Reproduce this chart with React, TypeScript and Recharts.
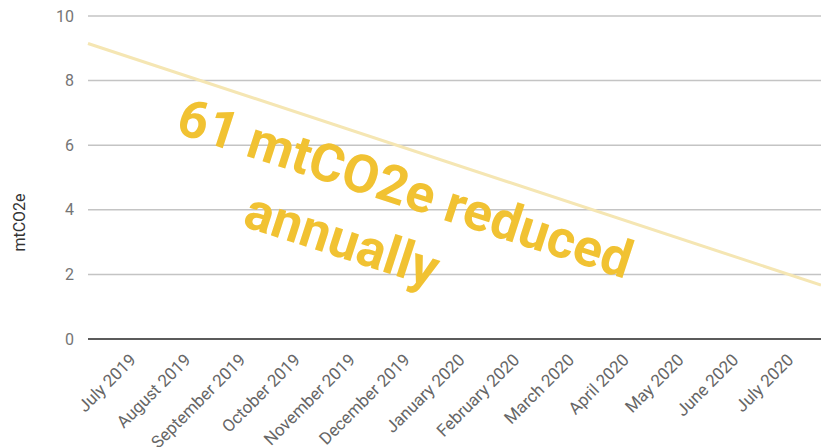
import React from "react";
import { CartesianGrid, Line, LineChart, ReferenceLine, XAxis, YAxis } from "recharts";

const months = [
  "July 2019", "August 2019", "September 2019", "October 2019", "November 2019",
  "December 2019", "January 2020", "February 2020", "March 2020", "April 2020",
  "May 2020", "June 2020", "July 2020",
];
const monthIndex = [0, 1, 2, 3, 4, 5, 6, 7, 8, 9, 10, 11, 12];
const yTicks = [0, 2, 4, 6, 8, 10];

// trend line at the plot edges
const trendX = [-0.84, 12.54];
const trendY = [9.15, 1.67];

const trend = trendX.map((x, i) => ({ x, y: trendY[i] }));

const FONT = "Roboto, Arial, sans-serif";

function MonthTick({ x, y, payload }: any) {
  return (
    <text
      x={x + 3}
      y={y + 14}
      transform={`rotate(-45 ${x + 3} ${y + 14})`}
      textAnchor="end"
      fill="#666"
      fontSize={17}
      fontFamily={FONT}
    >
      {months[payload.value]}
    </text>
  );
}

const noteStyle: React.CSSProperties = {
  position: "absolute",
  transform: "translate(-50%, -50%) rotate(18deg)",
  whiteSpace: "nowrap",
  color: "#f1c232",
  fontFamily: FONT,
  fontWeight: 700,
  fontSize: 53,
  lineHeight: 1,
};

export default function App() {
  return (
    <div style={{ position: "fixed", left: 0, top: 0, width: 821, height: 447, background: "#fff" }}>
      <LineChart width={821} height={447} data={trend} margin={{ top: 16, right: 0, bottom: 0, left: 0 }}>
        <CartesianGrid vertical={false} stroke="#c4c4c4" strokeWidth={1.5} />
        <XAxis
          dataKey="x"
          type="number"
          domain={[-0.84, 12.54]}
          ticks={monthIndex}
          interval={0}
          height={108}
          axisLine={false}
          tickLine={false}
          tick={<MonthTick />}
        />
        <YAxis
          domain={[0, 10]}
          ticks={yTicks}
          width={88}
          axisLine={false}
          tickLine={false}
          tick={{ fill: "#757575", fontSize: 16, fontFamily: FONT }}
          tickMargin={8}
          label={{
            content: ({ viewBox }: any) => {
              const cx = viewBox.x + 19;
              const cy = viewBox.y + viewBox.height / 2 + 45;
              return (
                <text
                  x={cx}
                  y={cy}
                  transform={`rotate(-90 ${cx} ${cy})`}
                  textAnchor="middle"
                  dominantBaseline="central"
                  fill="#333"
                  fontSize={16}
                  fontFamily={FONT}
                >
                  mtCO2e
                </text>
              );
            },
          }}
        />
        <ReferenceLine y={0} stroke="#333" strokeWidth={1.5} />
        <Line
          dataKey="y"
          type="linear"
          stroke="#f5e6b3"
          strokeWidth={3}
          dot={false}
          isAnimationActive={false}
        />
      </LineChart>
      <div style={{ ...noteStyle, left: 405, top: 189 }}>61 mtCO2e reduced</div>
      <div style={{ ...noteStyle, left: 342, top: 240 }}>annually</div>
    </div>
  );
}
